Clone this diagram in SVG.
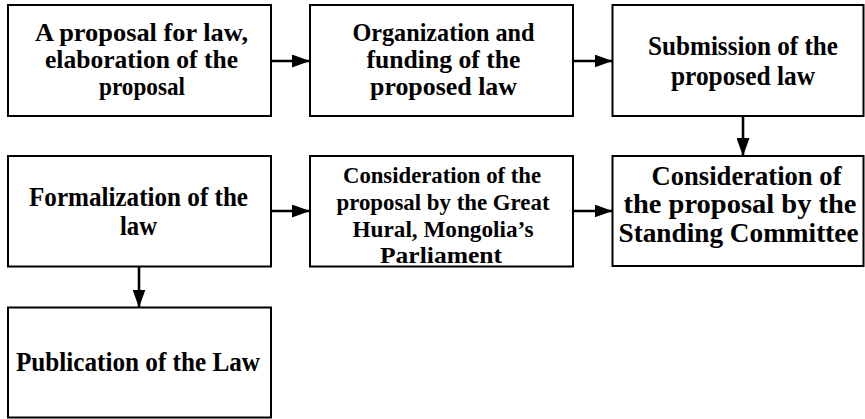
<svg xmlns="http://www.w3.org/2000/svg" width="865" height="419" viewBox="0 0 865 419">
<style>
.box{fill:#fff;stroke:#000;stroke-width:2}
.t{font-family:"Liberation Serif","Times New Roman",serif;font-weight:bold;font-size:27px;fill:#000;text-anchor:middle}
.m{font-size:25.5px}
.s{font-size:24px}
.c{fill:none;stroke:#000;stroke-width:2.6}
</style>
<defs>
<marker id="ah" markerUnits="userSpaceOnUse" markerWidth="18" markerHeight="13" refX="18" refY="6.5" orient="auto">
<path d="M0,0 L18,6.5 L0,13 z" fill="#000"/>
</marker>
</defs>
<rect width="865" height="419" fill="#fff"/>
<g id="connectors">
<path class="c" d="M271,61 H310" marker-end="url(#ah)"/>
<path class="c" d="M573,61 H612.5" marker-end="url(#ah)"/>
<path class="c" d="M743,116 V156" marker-end="url(#ah)"/>
<path class="c" d="M271,211 H310" marker-end="url(#ah)"/>
<path class="c" d="M573,211 H612.5" marker-end="url(#ah)"/>
<path class="c" d="M139,267 V307.5" marker-end="url(#ah)"/>
</g>
<g id="node1">
<rect class="box" x="8" y="5" width="263" height="111"/>
<text class="t m" x="141.5" y="40.5" textLength="213" lengthAdjust="spacingAndGlyphs">A proposal for law,</text>
<text class="t m" x="141.5" y="67.5" textLength="193" lengthAdjust="spacingAndGlyphs">elaboration of the</text>
<text class="t m" x="142" y="95" textLength="86" lengthAdjust="spacingAndGlyphs">proposal</text>
</g>
<g id="node2">
<rect class="box" x="310" y="5" width="263" height="111"/>
<text class="t m" x="443.5" y="40.5" textLength="182" lengthAdjust="spacingAndGlyphs">Organization and</text>
<text class="t m" x="443.5" y="67.5" textLength="154" lengthAdjust="spacingAndGlyphs">funding of the</text>
<text class="t m" x="443.5" y="95" textLength="147" lengthAdjust="spacingAndGlyphs">proposed law</text>
</g>
<g id="node3">
<rect class="box" x="612.5" y="5" width="251" height="111"/>
<text class="t" x="743" y="55" textLength="190" lengthAdjust="spacingAndGlyphs">Submission of the</text>
<text class="t" x="743" y="85" textLength="144" lengthAdjust="spacingAndGlyphs">proposed law</text>
</g>
<g id="node4">
<rect class="box" x="8" y="156" width="263" height="110.5"/>
<text class="t" x="138.5" y="205.5" textLength="219" lengthAdjust="spacingAndGlyphs">Formalization of the</text>
<text class="t" x="138.5" y="235" textLength="37" lengthAdjust="spacingAndGlyphs">law</text>
</g>
<g id="node5">
<rect class="box" x="310" y="156" width="263" height="110.5"/>
<text class="t s" x="442" y="183" textLength="198" lengthAdjust="spacingAndGlyphs">Consideration of the</text>
<text class="t s" x="443" y="210" textLength="213" lengthAdjust="spacingAndGlyphs">proposal by the Great</text>
<text class="t s" x="443" y="237" textLength="181" lengthAdjust="spacingAndGlyphs">Hural, Mongolia’s</text>
<text class="t s" x="441" y="262.5" textLength="122" lengthAdjust="spacingAndGlyphs">Parliament</text>
</g>
<g id="node6">
<rect class="box" x="612.5" y="156" width="251" height="110"/>
<text class="t" x="746.5" y="185" textLength="190" lengthAdjust="spacingAndGlyphs">Consideration of</text>
<text class="t" x="740" y="213" textLength="233" lengthAdjust="spacingAndGlyphs">the proposal by the</text>
<text class="t" x="738.5" y="241.5" textLength="240" lengthAdjust="spacingAndGlyphs">Standing Committee</text>
</g>
<g id="node7">
<rect class="box" x="8" y="307.5" width="263" height="110"/>
<text class="t" x="138" y="371" textLength="244" lengthAdjust="spacingAndGlyphs">Publication of the Law</text>
</g>
</svg>
